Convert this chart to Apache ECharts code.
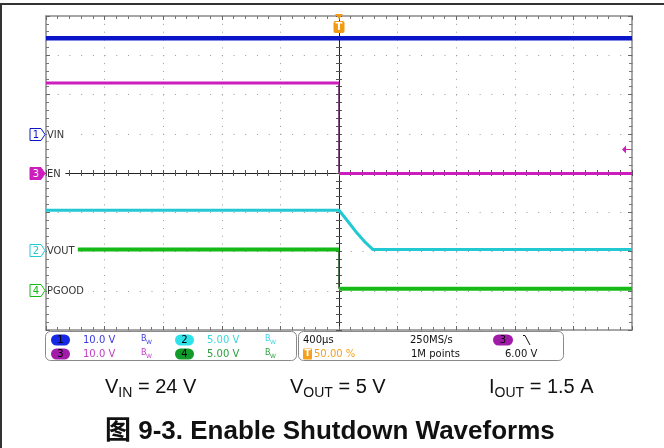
<!DOCTYPE html>
<html>
<head>
<meta charset="utf-8">
<script src="https://cdn.jsdelivr.net/npm/echarts@6/dist/echarts.min.js"></script>
<style>
  html, body { margin: 0; padding: 0; background: #fff; }
  #main { width: 664px; height: 448px; }
</style>
</head>
<body>
<div id="main"></div>
<script type="text/javascript">
  // time in µs (400 µs/div, trigger at 0), values in volts
  var vinTime = [-2000, 2000];
  var vinVolt = [24.4, 24.4];
  var enTime = [-2000, 0, 0, 2000];
  var enVolt = [22.9, 22.9, -0.1, -0.1];
  var voutTime = [-2000, 0, 60, 123, 180, 232, 2000];
  var voutVolt = [5.0, 5.0, 3.6, 2.1, 0.9, 0.0, 0.0];
  var pgoodTime = [-1820, 0, 0, 2000];
  var pgoodVolt = [5.1, 5.1, 0.1, 0.1];

  // channel setup (order = channel 1..4)
  var chNum = ['1', '2', '3', '4'];
  var chName = ['VIN', 'VOUT', 'EN', 'PGOOD'];
  var chVdiv = [10, 5, 10, 5];
  var chScaleText = ['10.0 V', '5.00 V', '10.0 V', '5.00 V'];
  var trigLevel = 6.0;   // V on channel 3
  var trigPos = '50.00 %';

  // ground offsets of each channel, in divisions from centre
  var chOffset = [0.99, -1.95, 0, -2.97];
  var chColor = ['#0a14c8', '#22c8d2', '#cc1ebc', '#16ba16'];
  var chEdge = ['#0a14c8', '#22c8d2', '#5c1a5c', '#1c4c1c'];
  var chPill = ['#1428e6', '#2ee2ea', '#a01ca8', '#129a2a'];
  var chText = ['#3a3ae0', '#3cd6e0', '#c03cc4', '#2ea040'];

  function toDiv(ch, v) { return chOffset[ch] + v / chVdiv[ch]; }

  var traceSeries = [];
  // split a trace at vertical steps: flat parts thick, steps thin
  function addTrace(ch, ts, vs, w) {
    var seg = [];
    for (var i = 0; i < ts.length; i++) {
      var p = [ts[i], toDiv(ch, vs[i])];
      if (i > 0 && ts[i] === ts[i - 1]) {
        traceSeries.push(lineSeries(chColor[ch], seg, w, 3));
        traceSeries.push(lineSeries(chEdge[ch], [seg[seg.length - 1], p], 1.5, 2));
        seg = [];
      }
      seg.push(p);
    }
    traceSeries.push(lineSeries(chColor[ch], seg, w, 3));
  }
  function lineSeries(color, data, w, z) {
    return {
      type: 'line', data: data, showSymbol: false, symbol: 'none', animation: false, silent: true,
      lineStyle: { color: color, width: w }, itemStyle: { color: color }, z: z
    };
  }
  addTrace(0, vinTime, vinVolt, 4.5);
  addTrace(2, enTime, enVolt, 3);
  addTrace(1, voutTime, voutVolt, 3);
  addTrace(3, pgoodTime, pgoodVolt, 4);

  var myChart = echarts.init(document.getElementById('main'));

  function borderAxis(pos, isX, grid) {
    return {
      type: 'value', position: pos,
      min: isX ? -2000 : -4, max: isX ? 2000 : 4, interval: isX ? 400 : 1,
      axisLine: { show: true, onZero: false, lineStyle: { color: '#8a8a8a', width: 1.5 } },
      axisTick: { show: true, inside: true, length: 4, lineStyle: { color: '#666' } },
      minorTick: { show: true, splitNumber: 5, length: 3, lineStyle: { color: '#777' } },
      axisLabel: { show: false },
      splitLine: grid ? { show: true, lineStyle: { color: '#9a9a9a', width: 1, type: isX ? [1, 6.85] : [1, 10.72] } } : { show: false }
    };
  }
  function centerAxis(pos, isX, idx) {
    return {
      type: 'value', position: pos,
      min: isX ? -2000 : -4, max: isX ? 2000 : 4, interval: isX ? 400 : 1,
      axisLine: { show: true, onZero: true, onZeroAxisIndex: idx, lineStyle: { color: '#222', width: 1 } },
      axisTick: { show: true, inside: true, length: 3, lineStyle: { color: '#555' } },
      minorTick: { show: true, splitNumber: 5, length: 3, lineStyle: { color: '#555' } },
      axisLabel: { show: false },
      splitLine: { show: false }
    };
  }

  var font10 = '10px "DejaVu Sans", sans-serif';
  var panel = [];
  // info boxes under the screen
  panel.push({ type: 'rect', shape: { x: 45.5, y: 331.5, width: 251, height: 29, r: 5 }, style: { fill: '#fff', stroke: '#8a8a8a', lineWidth: 1 } });
  panel.push({ type: 'rect', shape: { x: 298.5, y: 331.5, width: 265, height: 29, r: 5 }, style: { fill: '#fff', stroke: '#8a8a8a', lineWidth: 1 } });
  [[0, 51, 340], [1, 175, 340], [2, 51, 354], [3, 175, 354]].forEach(function (c) {
    var i = c[0], x = c[1], y = c[2];
    panel.push({ type: 'rect', shape: { x: x, y: y - 5.5, width: 19, height: 11, r: 5.5 }, style: { fill: chPill[i] } });
    panel.push({ type: 'text', style: { text: chNum[i], x: x + 9.5, y: y, align: 'center', verticalAlign: 'middle', textAlign: 'center', textVerticalAlign: 'middle', fill: '#000', font: font10 } });
    panel.push({ type: 'text', style: { text: chScaleText[i], x: x + 32, y: y, verticalAlign: 'middle', textVerticalAlign: 'middle', fill: chText[i], font: font10 } });
    panel.push({ type: 'text', style: { text: 'B', x: x + 90, y: y - 1, verticalAlign: 'middle', textVerticalAlign: 'middle', fill: chText[i], font: '8px "DejaVu Sans"' } });
    panel.push({ type: 'text', style: { text: 'W', x: x + 95, y: y + 2, verticalAlign: 'middle', textVerticalAlign: 'middle', fill: chText[i], font: '6px "DejaVu Sans"' } });
  });
  panel.push({ type: 'text', style: { text: '400µs', x: 303, y: 340, verticalAlign: 'middle', textVerticalAlign: 'middle', fill: '#111', font: font10 } });
  panel.push({ type: 'rect', shape: { x: 303, y: 348.5, width: 9, height: 11, r: 1 }, style: { fill: '#f5a01a' } });
  panel.push({ type: 'text', style: { text: 'T', x: 307.5, y: 354, align: 'center', textAlign: 'center', verticalAlign: 'middle', textVerticalAlign: 'middle', fill: '#fff', font: 'bold 9px "DejaVu Sans"' } });
  panel.push({ type: 'text', style: { text: trigPos, x: 314, y: 354, verticalAlign: 'middle', textVerticalAlign: 'middle', fill: '#f5a01a', font: font10 } });
  panel.push({ type: 'text', style: { text: '250MS/s', x: 410, y: 340, verticalAlign: 'middle', textVerticalAlign: 'middle', fill: '#111', font: font10 } });
  panel.push({ type: 'text', style: { text: '1M points', x: 411, y: 354, verticalAlign: 'middle', textVerticalAlign: 'middle', fill: '#111', font: font10 } });
  panel.push({ type: 'rect', shape: { x: 493, y: 334.5, width: 20, height: 11, r: 5.5 }, style: { fill: chPill[2] } });
  panel.push({ type: 'text', style: { text: '3', x: 503, y: 340, align: 'center', textAlign: 'center', verticalAlign: 'middle', textVerticalAlign: 'middle', fill: '#000', font: font10 } });
  panel.push({ type: 'polyline', shape: { points: [[523, 335.5], [525, 335.5], [530, 345]] }, style: { stroke: '#111', lineWidth: 1, fill: null } });
  panel.push({ type: 'text', style: { text: trigLevel.toFixed(2) + ' V', x: 505, y: 354, verticalAlign: 'middle', textVerticalAlign: 'middle', fill: '#111', font: font10 } });

  // outer frame
  panel.push({ type: 'line', shape: { x1: 0, y1: 4, x2: 664, y2: 4 }, style: { stroke: '#333', lineWidth: 2 } });
  panel.push({ type: 'line', shape: { x1: 1, y1: 4, x2: 1, y2: 448 }, style: { stroke: '#333', lineWidth: 2 } });

  // test conditions and caption
  var richM = { font: '20px "Liberation Sans", Arial, sans-serif', fill: '#111', verticalAlign: 'bottom', padding: [0, 0, 3, 0] };
  var richS = { font: '14px "Liberation Sans", Arial, sans-serif', fill: '#111', verticalAlign: 'bottom' };
  function cond(x, main, sub, rest) {
    return { type: 'text', x: x, y: 389, style: { text: '{m|' + main + '}{s|' + sub + '}{m|' + rest + '}', verticalAlign: 'middle', textVerticalAlign: 'middle', rich: { m: richM, s: richS } } };
  }
  panel.push(cond(105, 'V', 'IN', ' = 24 V'));
  panel.push(cond(290, 'V', 'OUT', ' = 5 V'));
  panel.push(cond(489, 'I', 'OUT', ' = 1.5 A'));
  panel.push({ type: 'text', x: 105, y: 432, style: { text: '图 9-3. Enable Shutdown Waveforms', verticalAlign: 'middle', textVerticalAlign: 'middle', fill: '#111', font: 'bold 26px "Liberation Sans", Arial, "Noto Sans CJK SC", sans-serif' } });

  var markerSeries = [
    {
      // channel ground markers on the left edge
      type: 'custom', coordinateSystem: 'cartesian2d', clip: false, silent: true, z: 6,
      data: chNum.map(function (n, i) { return [-2000, chOffset[i], i]; }),
      renderItem: function (params, api) {
        var i = api.value(2);
        var p = api.coord([api.value(0), api.value(1)]);
        var x = p[0] - 1, y = Math.round(p[1]) + 0.5;
        var filled = i === 2;
        var col = chColor[i];
        return {
          type: 'group', children: [
            { type: 'rect', shape: { x: x + 2, y: y - 7, width: 6 + chName[i].length * 6.2, height: 14 }, style: { fill: '#fff' } },
            { type: 'polygon', shape: { points: [[x - 15, y - 6], [x - 4, y - 6], [x, y], [x - 4, y + 6], [x - 15, y + 6]] }, style: { fill: filled ? col : '#fff', stroke: col, lineWidth: 1 } },
            { type: 'text', style: { text: chNum[i], x: x - 9, y: y + 0.5, align: 'center', textAlign: 'center', verticalAlign: 'middle', textVerticalAlign: 'middle', fill: filled ? '#fff' : col, font: '10px "DejaVu Sans"' } },
            { type: 'text', style: { text: chName[i], x: x + 2, y: y + 0.5, verticalAlign: 'middle', textVerticalAlign: 'middle', fill: '#333', font: '11px "DejaVu Sans Condensed", "DejaVu Sans", sans-serif' } }
          ]
        };
      }
    },
    {
      // trigger position (top) and trigger level (right)
      type: 'custom', coordinateSystem: 'cartesian2d', clip: false, silent: true, z: 6,
      data: [[0, 4, 2000, toDiv(2, trigLevel)]],
      renderItem: function (params, api) {
        var t = api.coord([api.value(0), api.value(1)]);
        var l = api.coord([api.value(2), api.value(3)]);
        var tx = t[0], ty = t[1];
        var lx = l[0], ly = Math.round(l[1]) + 0.5;
        return {
          type: 'group', children: [
            { type: 'polygon', shape: { points: [[tx - 4, ty - 2], [tx + 4, ty - 2], [tx, ty + 3]] }, style: { fill: '#f29a12' } },
            { type: 'rect', shape: { x: tx - 5.5, y: ty + 5, width: 11, height: 12, r: 2 }, style: { fill: '#f29a12' } },
            { type: 'text', style: { text: 'T', x: tx, y: ty + 11.5, align: 'center', textAlign: 'center', verticalAlign: 'middle', textVerticalAlign: 'middle', fill: '#fff', font: 'bold 10px "DejaVu Sans"' } },
            { type: 'polygon', shape: { points: [[lx - 10, ly], [lx - 6, ly - 4], [lx - 6, ly + 4]] }, style: { fill: chColor[2] } },
            { type: 'line', shape: { x1: lx - 6, y1: ly, x2: lx - 2, y2: ly }, style: { stroke: chColor[2], lineWidth: 1 } }
          ]
        };
      }
    }
  ];

  var option = {
    animation: false,
    backgroundColor: '#fff',
    grid: { left: 46, right: 32, top: 16, bottom: 118 },
    xAxis: [
      borderAxis('bottom', true, true),
      borderAxis('top', true, false),
      centerAxis('bottom', true, 0),
      centerAxis('top', true, 1)
    ],
    yAxis: [
      borderAxis('left', false, true),
      borderAxis('right', false, false),
      centerAxis('left', false, 0),
      centerAxis('right', false, 1)
    ],
    series: traceSeries.concat(markerSeries),
    graphic: { elements: panel }
  };
  myChart.setOption(option);
</script>
</body>
</html>
